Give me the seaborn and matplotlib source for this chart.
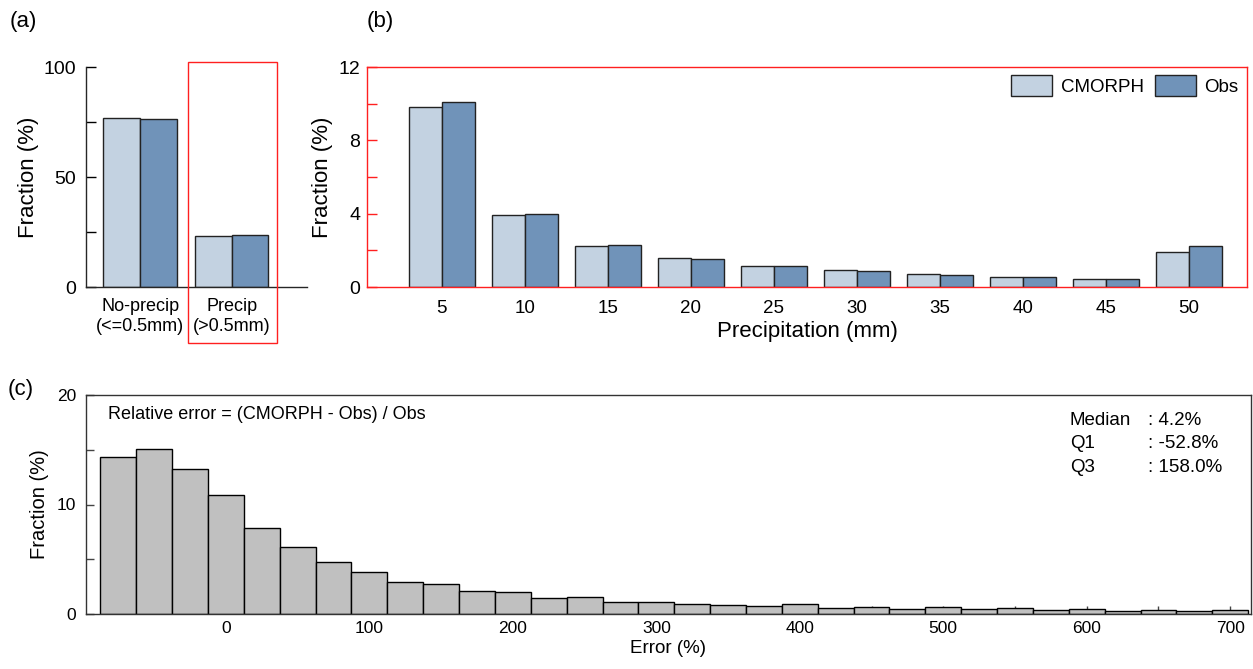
import numpy as np
import pandas as pd
import matplotlib
matplotlib.use("Agg")
import matplotlib.pyplot as plt
from matplotlib.patches import Rectangle
from matplotlib.ticker import MultipleLocator
import seaborn as sns

# ---- data ----
sources = ["CMORPH", "Obs"]

occ_categories = ["No-precip\n(<=0.5mm)", "Precip\n(>0.5mm)"]
occ_cmorph = [77.0, 23.0]
occ_obs = [76.5, 23.5]

amount_bins = ["5", "10", "15", "20", "25", "30", "35", "40", "45", "50"]
amount_cmorph = [9.82, 3.92, 2.25, 1.58, 1.14, 0.91, 0.69, 0.54, 0.42, 1.92]
amount_obs = [10.10, 3.97, 2.30, 1.52, 1.12, 0.85, 0.65, 0.53, 0.44, 2.21]

error_centers = [-75, -50, -25, 0, 25, 50, 75, 100, 125, 150, 175, 200, 225, 250,
                 275, 300, 325, 350, 375, 400, 425, 450, 475, 500, 525, 550, 575,
                 600, 625, 650, 675, 700]
error_fraction = [14.34, 15.07, 13.28, 10.83, 7.81, 6.08, 4.72, 3.87, 2.93, 2.72,
                  2.12, 2.03, 1.48, 1.51, 1.06, 1.09, 0.94, 0.85, 0.73, 0.91,
                  0.57, 0.67, 0.45, 0.60, 0.42, 0.51, 0.36, 0.42, 0.30, 0.39,
                  0.27, 0.36]
error_binwidth = 25

stat_names = ["Median", "Q1", "Q3"]
stat_values = [4.2, -52.8, 158.0]

# ---- style ----
sns.set_style("ticks")
plt.rcParams["font.family"] = ["Liberation Sans", "DejaVu Sans"]
plt.rcParams["axes.linewidth"] = 1.0
for key in ("text.color", "axes.labelcolor", "xtick.color", "ytick.color",
            "xtick.labelcolor", "ytick.labelcolor"):
    plt.rcParams[key] = "black"

palette = {"CMORPH": "#c3d2e1", "Obs": "#7093b9"}
bar_edge = "#222222"
red = "#ff2020"

W, H = 1253, 669
fig = plt.figure(figsize=(W / 100, H / 100), dpi=100)


def px_axes(left, right, top, bottom):
    return fig.add_axes([left / W, 1 - bottom / H, (right - left) / W, (bottom - top) / H])


ax_a = px_axes(86, 307, 67, 287)
ax_b = px_axes(367, 1247, 67, 287)
ax_c = px_axes(86, 1251, 395, 614)

# ---- (a) occurrence ----
df_a = pd.DataFrame({
    "category": occ_categories * 2,
    "source": [sources[0]] * len(occ_categories) + [sources[1]] * len(occ_categories),
    "fraction": occ_cmorph + occ_obs,
})
sns.barplot(data=df_a, x="category", y="fraction", hue="source", palette=palette,
            saturation=1, width=0.8, edgecolor=bar_edge, linewidth=1.0,
            legend=False, ax=ax_a)
ax_a.set_xlim(-0.59, 1.82)
ax_a.set_ylim(0, 100)
ax_a.set_yticks([0, 50, 100])
ax_a.yaxis.set_minor_locator(MultipleLocator(25))
ax_a.set_xlabel("")
ax_a.set_ylabel("Fraction (%)", fontsize=16, labelpad=3)
ax_a.tick_params(axis="y", which="both", direction="in", length=7, width=1,
                 labelsize=14, pad=7)
ax_a.tick_params(axis="x", length=0, labelsize=13, pad=8)
for lab in ax_a.get_xticklabels():
    lab.set_linespacing(1.25)
sns.despine(ax=ax_a)

# highlight box around the precipitating category
fig.add_artist(Rectangle((188 / W, 1 - 343 / H), 89 / W, 281 / H,
                         transform=fig.transFigure, fill=False,
                         edgecolor=red, linewidth=1.0))

# ---- (b) amount distribution ----
df_b = pd.DataFrame({
    "bin": amount_bins * 2,
    "source": [sources[0]] * len(amount_bins) + [sources[1]] * len(amount_bins),
    "fraction": amount_cmorph + amount_obs,
})
sns.barplot(data=df_b, x="bin", y="fraction", hue="source", palette=palette,
            saturation=1, width=0.8, edgecolor=bar_edge, linewidth=1.0, ax=ax_b)
ax_b.set_xlim(-0.9, 9.7)
ax_b.set_ylim(0, 12)
ax_b.set_yticks([0, 4, 8, 12])
ax_b.yaxis.set_minor_locator(MultipleLocator(2))
ax_b.set_xlabel("Precipitation (mm)", fontsize=16, labelpad=3)
ax_b.set_ylabel("Fraction (%)", fontsize=16, labelpad=4)
ax_b.tick_params(axis="y", which="both", direction="in", length=7, width=1,
                 color=red, labelsize=14, pad=5)
ax_b.tick_params(axis="x", length=0, labelsize=13.5, pad=9)
for sp in ax_b.spines.values():
    sp.set_color(red)
    sp.set_linewidth(1.0)

handles, labels = ax_b.get_legend_handles_labels()
for h in handles:
    h.set_edgecolor(bar_edge)
    h.set_linewidth(1.0)
ax_b.legend(handles, labels, loc="upper right", ncol=2, frameon=False,
            fontsize=13.5, handlelength=2.2, handleheight=1.35,
            handletextpad=0.45, columnspacing=0.6, borderpad=0.3,
            borderaxespad=0.15)

# ---- (c) relative error histogram ----
sns.histplot(x=error_centers, weights=error_fraction, binwidth=error_binwidth,
             binrange=(error_centers[0] - error_binwidth / 2,
                       error_centers[-1] + error_binwidth / 2),
             stat="count", color="#c0c0c0", edgecolor="black", linewidth=1.0,
             alpha=1.0, ax=ax_c)
ax_c.set_xlim(-97.5, 714.5)
ax_c.set_ylim(0, 20)
ax_c.set_yticks([0, 10, 20])
ax_c.yaxis.set_minor_locator(MultipleLocator(5))
ax_c.set_xticks(np.arange(0, 701, 100))
ax_c.xaxis.set_minor_locator(MultipleLocator(50))
ax_c.set_xlabel("Error (%)", fontsize=13.5, labelpad=3)
ax_c.set_ylabel("Fraction (%)", fontsize=14.5, labelpad=6)
ax_c.tick_params(axis="both", which="both", direction="in", length=6, width=1,
                 color="#444444", labelsize=12.5)
ax_c.tick_params(axis="y", pad=7)
ax_c.tick_params(axis="x", pad=5)
for sp in ax_c.spines.values():
    sp.set_color("#333333")

ax_c.text(0.019, 0.913, "Relative error = (CMORPH - Obs) / Obs",
          transform=ax_c.transAxes, fontsize=13, va="center", ha="left")
for i, (name, val) in enumerate(zip(stat_names, stat_values)):
    y = 0.884 - i * 0.107
    ax_c.text(0.8446, y, name, transform=ax_c.transAxes, fontsize=13.5,
              va="center", ha="left")
    ax_c.text(0.9116, y, f": {val:.1f}%", transform=ax_c.transAxes, fontsize=13.5,
              va="center", ha="left")

# ---- panel labels ----
fig.text(10 / W, 1 - 22 / H, "(a)", fontsize=16, va="center", ha="left")
fig.text(367 / W, 1 - 22 / H, "(b)", fontsize=16, va="center", ha="left")
fig.text(8 / W, 1 - 390 / H, "(c)", fontsize=16, va="center", ha="left")

fig.savefig("out.png", dpi=100)
